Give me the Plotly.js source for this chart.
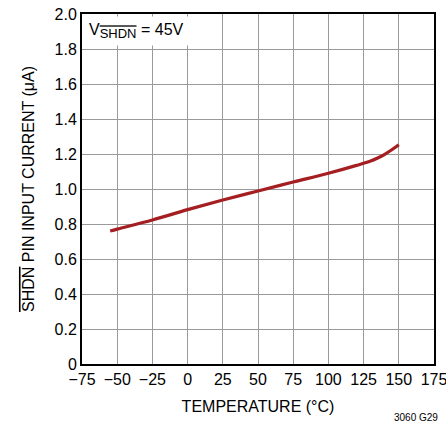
<!DOCTYPE html>
<html>
<head>
<meta charset="utf-8">
<script src="https://cdn.plot.ly/plotly-3.0.1.min.js"></script>
<style>html,body{margin:0;padding:0;background:#fff;}#chart{width:446px;height:429px;}</style>
</head>
<body>
<div id="chart"></div>
<script>
const temperature = [-55, -50, -25, 0, 25, 50, 75, 100, 120, 130, 135, 140, 145, 150];
const current = [0.760, 0.771, 0.823, 0.882, 0.937, 0.989, 1.040, 1.090, 1.135, 1.160, 1.177, 1.198, 1.224, 1.253];
const xTicks = [-75, -50, -25, 0, 25, 50, 75, 100, 125, 150, 175];
const xTickText = ['\u221275', '\u221250', '\u221225', '0', '25', '50', '75', '100', '125', '150', '175'];
const yTicks = [0, 0.2, 0.4, 0.6, 0.8, 1.0, 1.2, 1.4, 1.6, 1.8, 2.0];
const yTickText = ['0', '0.2', '0.4', '0.6', '0.8', '1.0', '1.2', '1.4', '1.6', '1.8', '2.0'];

const FONT = '"Liberation Sans Narrow", "Liberation Sans", Arial, sans-serif';
const OL = 'text-decoration:overline';

const trace = {
  x: temperature, y: current, type: 'scatter', mode: 'lines',
  line: {color: '#A51E22', width: 3.2, shape: 'spline', smoothing: 1},
  hoverinfo: 'skip'
};

const layout = {
  width: 446, height: 429,
  margin: {l: 82, r: 12, t: 14, b: 65},
  paper_bgcolor: '#fff', plot_bgcolor: '#fff',
  showlegend: false,
  font: {family: FONT, size: 16, color: '#000'},
  xaxis: {
    range: [-75, 175], tickvals: xTicks, ticktext: xTickText,
    showgrid: true, gridcolor: '#9a9a9a', gridwidth: 1,
    showline: true, linecolor: '#000', linewidth: 2, mirror: true,
    ticks: '', zeroline: false, automargin: false, ticklabeloverflow: 'allow',
    tickfont: {family: FONT, size: 16},
    title: {text: 'TEMPERATURE (°C)', font: {family: FONT, size: 16}, standoff: 14}
  },
  yaxis: {
    range: [0, 2.0], tickvals: yTicks, ticktext: yTickText,
    showgrid: true, gridcolor: '#9a9a9a', gridwidth: 1,
    showline: true, linecolor: '#000', linewidth: 2, mirror: true,
    ticks: '', zeroline: false, automargin: false,
    tickfont: {family: FONT, size: 16},
    title: {text: '<span style="' + OL + '">SHDN</span> PIN INPUT CURRENT (\u03bcA)', font: {family: FONT, size: 16}, standoff: 16}
  },
  annotations: [
    {xref: 'paper', yref: 'paper', x: 0.005, y: 0.995, xanchor: 'left', yanchor: 'top',
     text: 'V<sub><span style="font-size:13px;' + OL + '">SHDN</span></sub> = 45V', showarrow: false,
     bgcolor: '#fff', borderpad: 4, font: {family: FONT, size: 16}},
    {xref: 'paper', yref: 'paper', x: 1.017, y: -0.154, xanchor: 'right', yanchor: 'middle',
     text: '3060 G29', showarrow: false, font: {family: FONT, size: 10}}
  ]
};

Plotly.newPlot('chart', [trace], layout, {staticPlot: true, displayModeBar: false});
</script>
</body>
</html>
